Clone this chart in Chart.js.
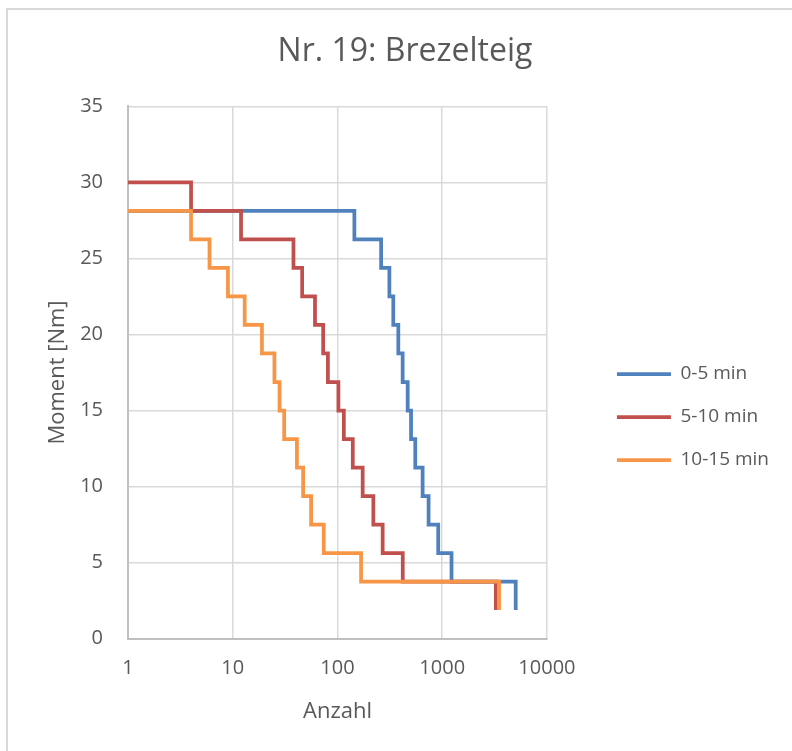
<!DOCTYPE html>
<html>
<head>
<meta charset="utf-8">
<script src="https://cdn.jsdelivr.net/npm/chart.js@4"></script>
<style>
  body { margin: 0; background: #fff; }
  #frame { position: absolute; left: 6px; top: 8px; width: 900px; height: 900px;
           border-left: 2px solid #d9d9d9; border-top: 2px solid #d9d9d9; }
  #wrap { position: absolute; left: 0; top: 0; width: 792px; height: 751px; }
</style>
</head>
<body>
<div id="frame"></div>
<div id="wrap"><canvas id="myChart"></canvas></div>
<script>
// Anzahl (x) und Moment (y) je Knetintervall
const seriesNames = ["0-5 min", "5-10 min", "10-15 min"];
const seriesColors = ["#4f81bd", "#c0504d", "#f79646"];

const anzahl05 = [1, 145, 261, 313, 341, 381, 419, 468, 504, 553, 650, 741, 916, 1227, 5030];
const moment05 = [28.125, 26.25, 24.375, 22.5, 20.625, 18.75, 16.875, 15, 13.125, 11.25, 9.375, 7.5, 5.625, 3.75, 1.875];

const anzahl510 = [1, 4, 12, 38, 46, 61, 73, 81, 102, 115, 140, 174, 220, 270, 420, 3250];
const moment510 = [30, 28.125, 26.25, 24.375, 22.5, 20.625, 18.75, 16.875, 15, 13.125, 11.25, 9.375, 7.5, 5.625, 3.75, 1.875];

const anzahl1015 = [1, 4, 6, 9, 13, 19, 25, 28, 31, 41, 47, 56, 74, 168, 3490];
const moment1015 = [28.125, 26.25, 24.375, 22.5, 20.625, 18.75, 16.875, 15, 13.125, 11.25, 9.375, 7.5, 5.625, 3.75, 1.875];

const xTicks = [1, 10, 100, 1000, 10000];

const textColor = "#595959";
const fontFamily = "'Open Sans', sans-serif";

function toPoints(xs, ys) {
  return xs.map((x, i) => ({ x: x, y: ys[i] }));
}

const allX = [anzahl05, anzahl510, anzahl1015];
const allY = [moment05, moment510, moment1015];

const datasets = seriesNames.map((name, i) => ({
  label: name,
  data: toPoints(allX[i], allY[i]),
  borderColor: seriesColors[i],
  backgroundColor: seriesColors[i],
  borderWidth: 3.75,
  pointRadius: 0,
  stepped: "before",
  fill: false,
  order: 3 - i, // orange on top
}));

Chart.defaults.font.family = fontFamily;
Chart.defaults.color = textColor;

const ctx = document.getElementById("myChart");
const chart = new Chart(ctx, {
  type: "line",
  data: { datasets: datasets },
  options: {
    responsive: true,
    maintainAspectRatio: false,
    animation: false,
    layout: { padding: { left: 31, right: 13, bottom: 24 } },
    plugins: {
      title: {
        display: true,
        text: "Nr. 19: Brezelteig",
        font: { size: 32, weight: "normal" },
        color: textColor,
        padding: { top: 33, bottom: 35 },
      },
      legend: {
        position: "right",
        // leerer Titel schiebt die Einträge nach unten
        title: { display: true, text: " ", font: { size: 10 }, padding: { top: 95, bottom: 0 } },
        labels: {
          usePointStyle: true,
          pointStyle: "line",
          pointStyleWidth: 54,
          padding: 24,
          font: { size: 19 },
          color: textColor,
          sort: (a, b) => a.datasetIndex - b.datasetIndex,
        },
      },
      tooltip: { enabled: false },
    },
    scales: {
      x: {
        type: "logarithmic",
        min: 1,
        max: 10000,
        afterBuildTicks: (axis) => {
          axis.ticks = xTicks.map((v) => ({ value: v }));
        },
        ticks: {
          font: { size: 20 },
          padding: 18,
          autoSkip: false,
          maxRotation: 0,
          callback: (v) => String(v),
        },
        grid: { color: "#d9d9d9", lineWidth: 1.5, drawTicks: false },
        border: { color: "#bfbfbf", width: 2 },
        title: {
          display: true,
          text: "Anzahl",
          font: { size: 22 },
          padding: { top: 0, bottom: 2 },
        },
      },
      y: {
        min: 0,
        max: 35,
        ticks: { stepSize: 5, font: { size: 20 }, padding: 25 },
        grid: { color: "#d9d9d9", lineWidth: 1.5, drawTicks: false },
        border: { color: "#bfbfbf", width: 2 },
        title: {
          display: true,
          text: "Moment [Nm]",
          font: { size: 22 },
          padding: { top: 14, bottom: 0 },
        },
        afterFit: (scale) => { scale.width = 97; },
      },
      // Abstand zwischen Diagramm und Legende
      gap: {
        position: "right",
        display: false,
        afterFit: (scale) => { scale.width = 46; },
      },
    },
  },
});
</script>
</body>
</html>
